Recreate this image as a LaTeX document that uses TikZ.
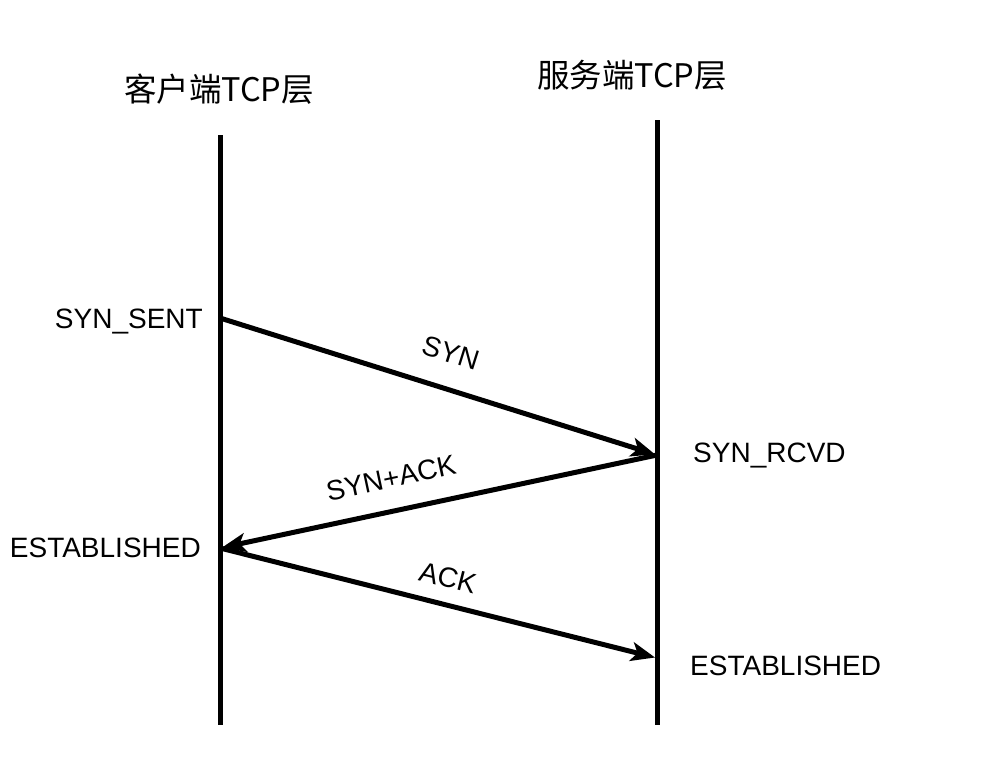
\documentclass[tikz,border=0pt]{standalone}
\usepackage{fontspec}
\setmainfont{Liberation Sans}
\newfontfamily\cjk{Noto Sans CJK SC}
\usetikzlibrary{arrows.meta}
\begin{document}
\begin{tikzpicture}[x=1pt,y=-1pt,
  lifeline/.style={line width=5pt},
  msg/.style={line width=5pt,-{Stealth[length=24pt,width=19pt,inset=6pt]},shorten >=2pt},
  state/.style={font=\fontsize{28}{32}\selectfont,inner sep=0pt},
  lbl/.style={font=\fontsize{28}{32}\selectfont,inner sep=0pt},
  title/.style={font=\cjk\fontsize{32.5}{38}\selectfont,inner sep=0pt}]
\useasboundingbox (0,0) rectangle (1002,756);
% lifelines
\coordinate (ltop) at (220,135);
\coordinate (lbot) at (220,725);
\coordinate (rtop) at (657,120);
\coordinate (rbot) at (657,725);
\draw[lifeline] (ltop) -- (lbot);
\draw[lifeline] (rtop) -- (rbot);
% titles
\node[title] (tl) at (219,89) {客户端TCP层};
\node[title] (tr) at (632,75) {服务端TCP层};
% message points
\coordinate (a1) at (220,318);
\coordinate (b1) at (657,455);
\coordinate (a2) at (220,548);
\coordinate (b2) at (657,658);
\draw[msg] (a1) -- (b1);
\draw[msg] (b1) -- (a2);
\draw[msg] (a2) -- (b2);
% message labels
\node[lbl,rotate=-17.5] (syn) at (451,353) {SYN};
\node[lbl,rotate=12] (synack) at (391,478) {SYN+ACK};
\node[lbl,rotate=-14] (ack) at (448,578) {ACK};
% states
\node[state,anchor=east] (s1) at (203,321) {SYN\_SENT};
\node[state,anchor=west] (s2) at (693,455) {SYN\_RCVD};
\node[state,anchor=east] (s3) at (201,548) {ESTABLISHED};
\node[state,anchor=west] (s4) at (690,666) {ESTABLISHED};
\end{tikzpicture}
\end{document}
